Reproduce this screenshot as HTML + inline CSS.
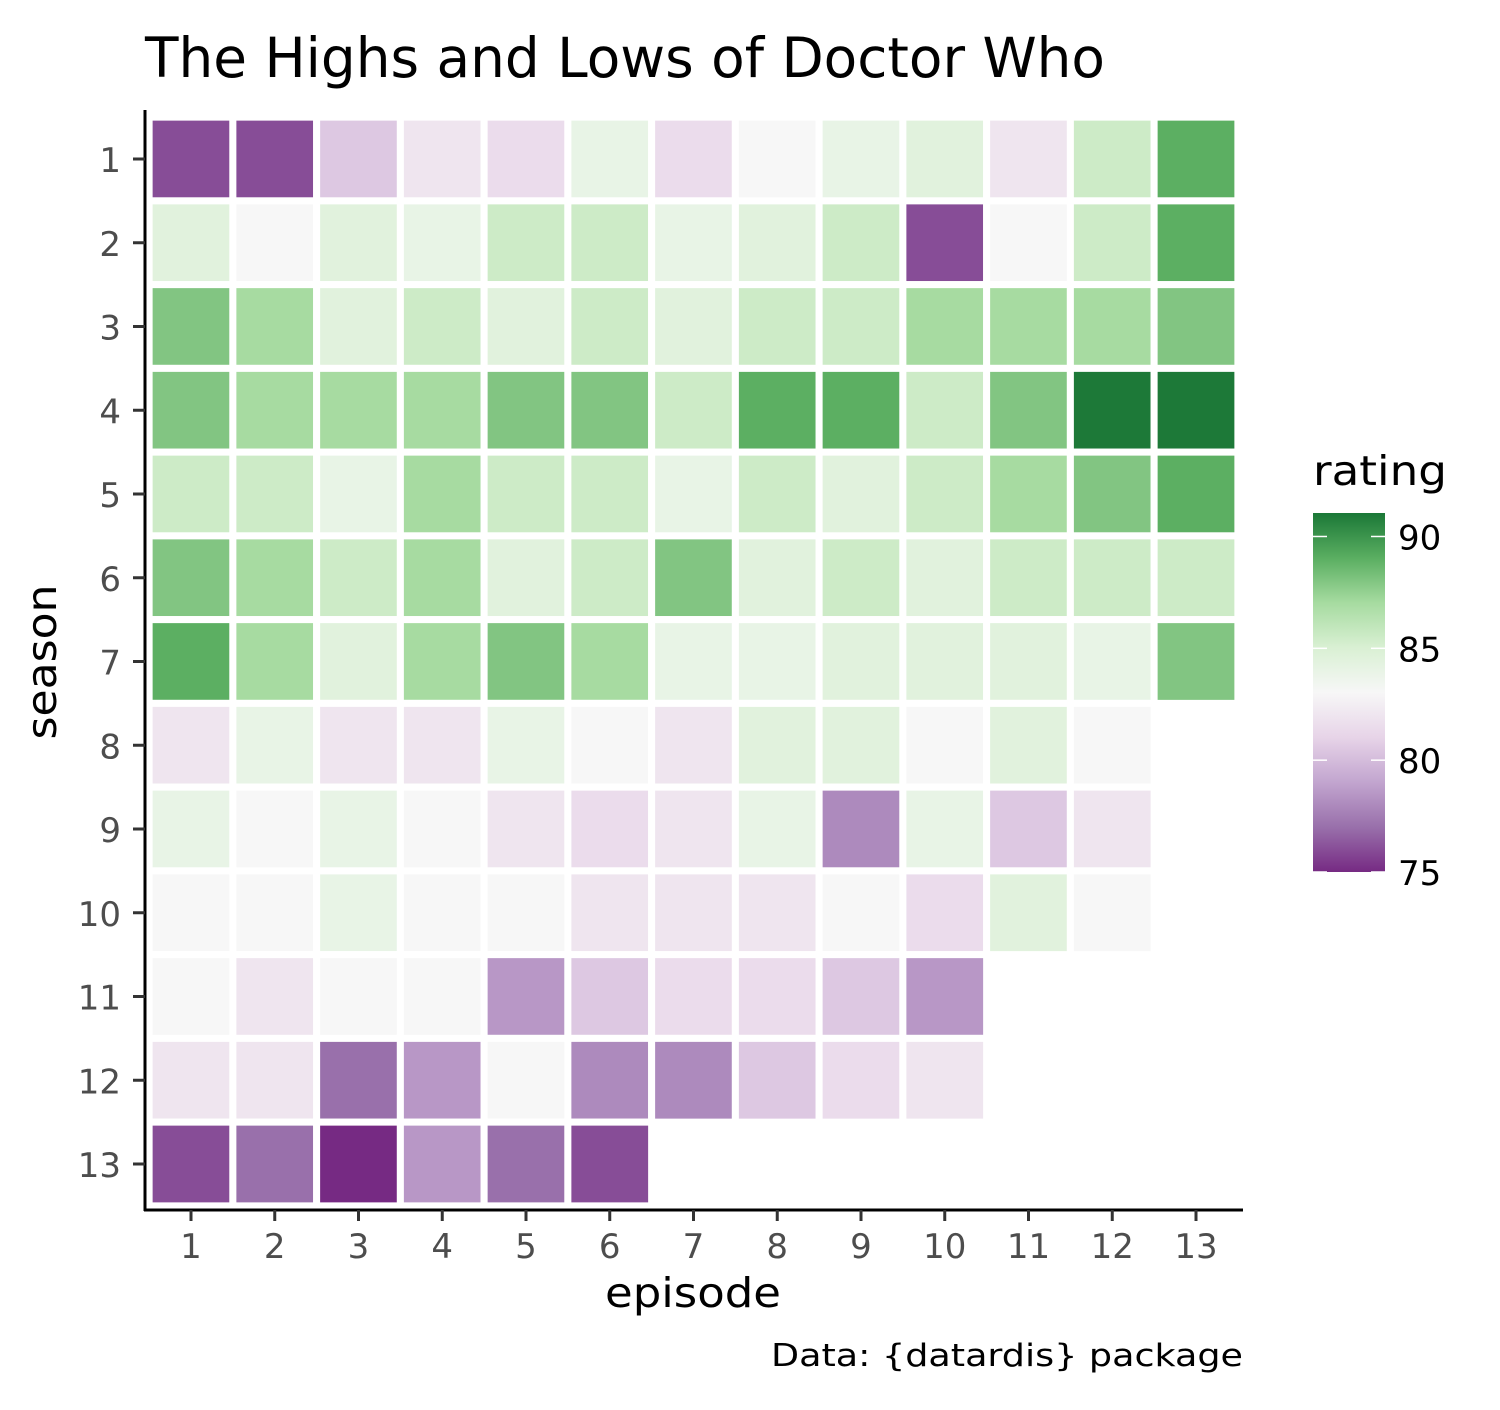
<!DOCTYPE html>
<html><head><meta charset="utf-8"><style>
html,body{margin:0;padding:0;background:#fff;}
svg{display:block;font-family:"DejaVu Sans","Liberation Sans",sans-serif;}
</style></head><body>
<svg id="chart" width="1500" height="1410" viewBox="0 0 1500 1410" xmlns="http://www.w3.org/2000/svg">
<defs>
<linearGradient id="lg" x1="0" y1="1" x2="0" y2="0">
<stop offset="0" stop-color="#762a83"/>
<stop offset="0.125" stop-color="#9970ab"/>
<stop offset="0.25" stop-color="#c2a5cf"/>
<stop offset="0.375" stop-color="#e7d4e8"/>
<stop offset="0.5" stop-color="#f7f7f7"/>
<stop offset="0.625" stop-color="#d9f0d3"/>
<stop offset="0.75" stop-color="#a6dba0"/>
<stop offset="0.875" stop-color="#5aae61"/>
<stop offset="1" stop-color="#1b7837"/>
</linearGradient>
</defs>
<text x="145" y="77" font-size="55" fill="#000" textLength="960" lengthAdjust="spacingAndGlyphs">The Highs and Lows of Doctor Who</text>
<g id="cells"></g>
<g id="axes"></g>
<text x="693" y="1307" font-size="41" text-anchor="middle" fill="#000" textLength="176" lengthAdjust="spacingAndGlyphs">episode</text>
<text x="0" y="0" font-size="41" text-anchor="middle" fill="#000" textLength="155" lengthAdjust="spacingAndGlyphs" transform="translate(56,662) rotate(-90)">season</text>
<g>
<text x="1313" y="485" font-size="41" fill="#000" textLength="134" lengthAdjust="spacingAndGlyphs">rating</text>
<rect x="1313" y="513" width="72" height="359" fill="url(#lg)"/>
<g id="legticks"></g>
</g>
<text x="1243" y="1366" font-size="31" text-anchor="end" fill="#000" textLength="472" lengthAdjust="spacingAndGlyphs">Data: {datardis} package</text>
</svg>
<script>
const episodes = [1,2,3,4,5,6,7,8,9,10,11,12,13];
const seasons = [1,2,3,4,5,6,7,8,9,10,11,12,13];
const ratingsS1 = [76,76,80.5,82,81.5,84,81.5,83,84,84.5,82,85.5,89];
const ratingsS2 = [84.5,83,84.5,84,85.5,85.5,84,84.5,85.5,76,83,85.5,89];
const ratingsS3 = [88,87,84.5,85.5,84.5,85.5,84.5,85.5,85.5,87,87,87,88];
const ratingsS4 = [88,87,87,87,88,88,85.5,89,89,85.5,88,91,91];
const ratingsS5 = [85.5,85.5,84,87,85.5,85.5,84,85.5,84.5,85.5,87,88,89];
const ratingsS6 = [88,87,85.5,87,84.5,85.5,88,84.5,85.5,84.5,85.5,85.5,85.5];
const ratingsS7 = [89,87,84.5,87,88,87,84,84,84.5,84.5,84.5,84,88];
const ratingsS8 = [82,84,82,82,84,83,82,84.5,84.5,83,84.5,83];
const ratingsS9 = [84,83,84,83,82,81.5,82,84,78,84,80.5,82];
const ratingsS10 = [83,83,84,83,83,82,82,82,83,81.5,84.5,83];
const ratingsS11 = [83,82,83,83,78.5,80.5,81.5,81.5,80.5,78.5];
const ratingsS12 = [82,82,77,78.5,83,78,78,80.5,81.5,82];
const ratingsS13 = [76,77,75,78.5,77,76];
const allRatings = [ratingsS1,ratingsS2,ratingsS3,ratingsS4,ratingsS5,ratingsS6,ratingsS7,ratingsS8,ratingsS9,ratingsS10,ratingsS11,ratingsS12,ratingsS13];
const legendTicks = [75,80,85,90];

const NS = "http://www.w3.org/2000/svg";
const step = 83.75;
const xScale = e => 191 + (e - 1) * step;
const yScale = s => 159 + (s - 1) * step;
const cMin = 75, cMax = 91.05;
const legY = v => 872 - (v - cMin) / (cMax - cMin) * 359;
const stops = [[0,[0x76,0x2a,0x83]],[0.125,[0x99,0x70,0xab]],[0.25,[0xc2,0xa5,0xcf]],[0.375,[0xe7,0xd4,0xe8]],[0.5,[0xf7,0xf7,0xf7]],[0.625,[0xd9,0xf0,0xd3]],[0.75,[0xa6,0xdb,0xa0]],[0.875,[0x5a,0xae,0x61]],[1,[0x1b,0x78,0x37]]];
function color(v){
  let t = Math.max(0, Math.min(1, (v - cMin) / (cMax - cMin)));
  for (let i = 1; i < stops.length; i++) {
    if (t <= stops[i][0]) {
      const a = stops[i-1], b = stops[i];
      const f = (t - a[0]) / (b[0] - a[0]);
      const c = a[1].map((x, k) => Math.round(x + (b[1][k] - x) * f));
      return `rgb(${c[0]},${c[1]},${c[2]})`;
    }
  }
  return "#1b7837";
}
function mk(tag, attrs, parent){
  const el = document.createElementNS(NS, tag);
  for (const k in attrs) el.setAttribute(k, attrs[k]);
  parent.appendChild(el);
  return el;
}
const cells = document.getElementById('cells');
allRatings.forEach((row, si) => {
  row.forEach((v, ei) => {
    const r = mk('rect', {x: xScale(episodes[ei]) - step/2, y: yScale(seasons[si]) - step/2, width: step, height: step, fill: color(v), stroke: '#fff', 'stroke-width': 7}, cells);
    
    
  });
});
const axes = document.getElementById('axes');
const yl = mk('line', {x1: 145, y1: 110, x2: 145, y2: 1211, stroke: '#000', 'stroke-width': 3}, axes);


const xl = mk('line', {x1: 144, y1: 1210, x2: 1243, y2: 1210, stroke: '#000', 'stroke-width': 3}, axes);


episodes.forEach(e => {
  mk('line', {x1: xScale(e), y1: 1210, x2: xScale(e), y2: 1221, stroke: '#333', 'stroke-width': 3}, axes);
  const t = mk('text', {x: xScale(e), y: 1258, 'font-size': 34, 'text-anchor': 'middle', fill: '#4d4d4d'}, axes);
  t.textContent = e;
  
  
});
seasons.forEach(s => {
  mk('line', {x1: 133, y1: yScale(s), x2: 145, y2: yScale(s), stroke: '#333', 'stroke-width': 3}, axes);
  const t = mk('text', {x: 121, y: yScale(s) + 13, 'font-size': 34, 'text-anchor': 'end', fill: '#4d4d4d'}, axes);
  t.textContent = s;
  
  
});
const lt = document.getElementById('legticks');
legendTicks.forEach(v => {
  const y = legY(v);
  mk('line', {x1: 1313, y1: y, x2: 1327, y2: y, stroke: '#fff', 'stroke-width': 1.5}, lt);
  mk('line', {x1: 1371, y1: y, x2: 1385, y2: y, stroke: '#fff', 'stroke-width': 1.5}, lt);
  const t = mk('text', {x: 1398, y: y + 13, 'font-size': 34, fill: '#000'}, lt);
  t.textContent = v;
  
  
});
</script>
</body></html>
